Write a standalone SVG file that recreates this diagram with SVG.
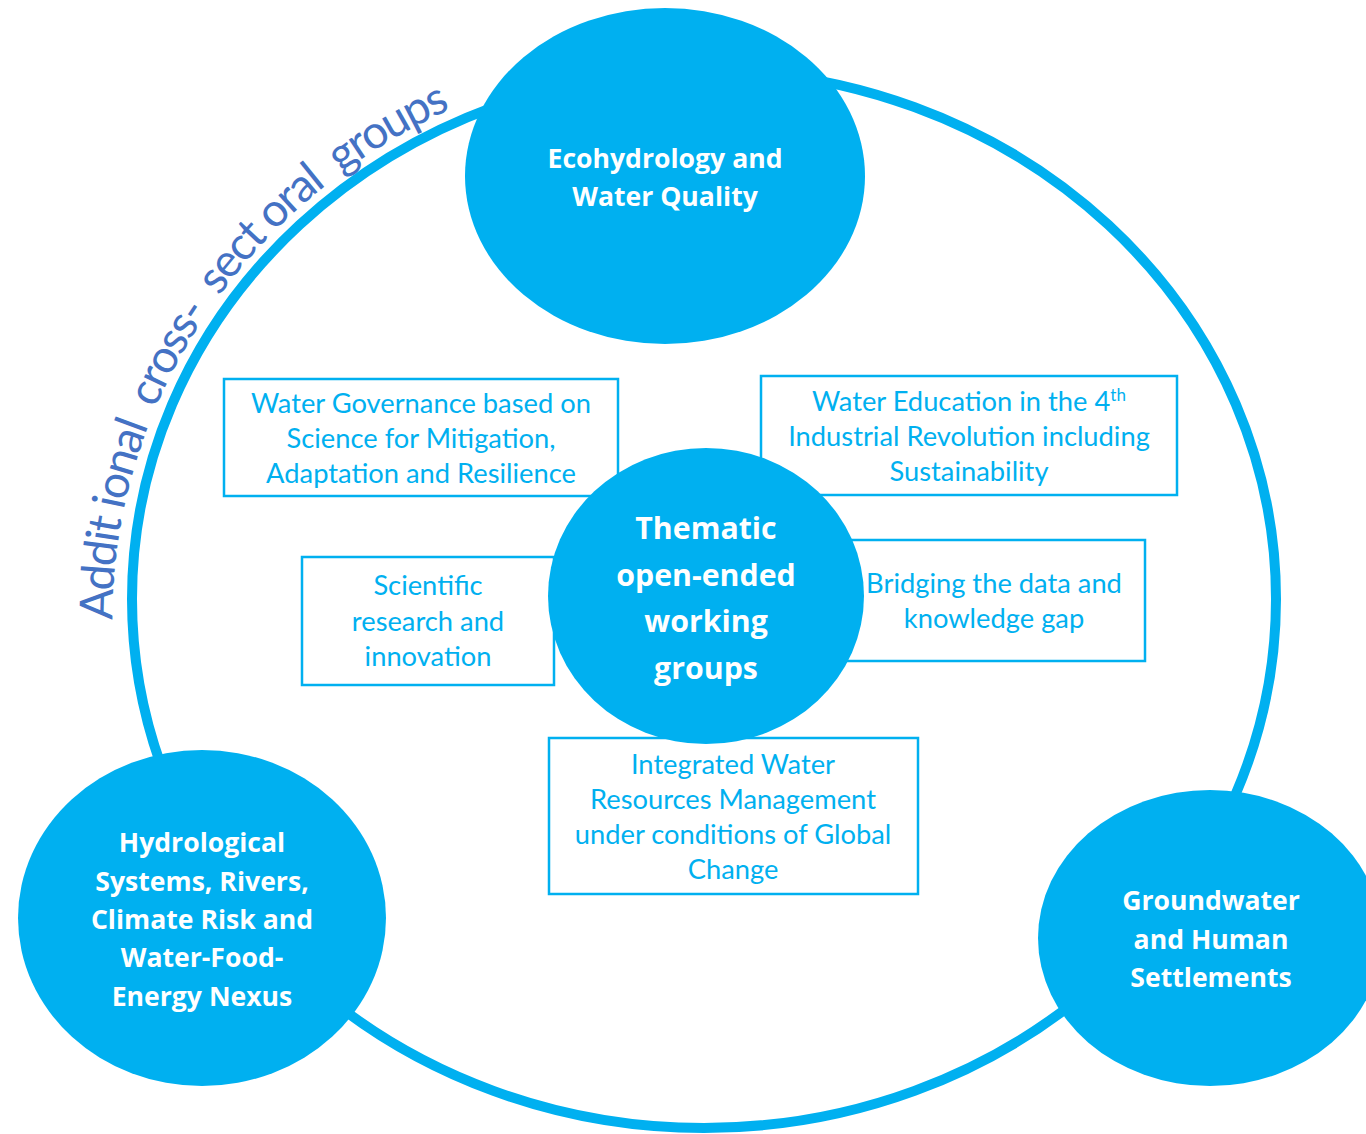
<svg xmlns="http://www.w3.org/2000/svg" width="1366" height="1134" viewBox="0 0 1366 1134">
<style>
.ring{fill:none;stroke:#00B0F0;stroke-width:10}
.box{fill:#fff;stroke:#00B0F0;stroke-width:2.5}
.bt{font-family:Lato,"Liberation Sans",sans-serif;font-size:27.3px;fill:#00B0F0;text-anchor:middle}
.ct{font-family:"Open Sans","Liberation Sans",sans-serif;font-weight:bold;font-size:26.6px;fill:#fff;text-anchor:middle}
.big{font-size:30.3px}
.circ{fill:#00B0F0}
.arc{font-family:Lato,"Liberation Sans",sans-serif;font-size:46px;fill:#4472C4}
</style>
<defs>
<path id="arcpath" d="M 112.4,620 A 592 565 0 0 1 1296 599"/>
</defs>
<g id="outer-ring">
<ellipse class="ring" cx="704" cy="599" rx="572" ry="529"/>
</g>
<g id="arc-label">
<text class="arc" xml:space="preserve"><textPath href="#arcpath" textLength="648" lengthAdjust="spacing">Addit ional  cross-  sect oral  groups</textPath></text>
</g>
<g id="connectors"></g>
<g id="box-governance">
<rect class="box" x="224" y="379" width="394" height="117"/>
<text class="bt" x="421" y="413">Water Governance based on</text>
<text class="bt" x="421" y="448">Science for Mitigation,</text>
<text class="bt" x="421" y="483">Adaptation and Resilience</text>
</g>
<g id="box-education">
<rect class="box" x="761" y="376" width="416" height="119"/>
<text class="bt" x="969" y="411">Water Education in the 4<tspan font-size="17" dy="-10">th</tspan></text>
<text class="bt" x="969" y="446">Industrial Revolution including</text>
<text class="bt" x="969" y="481">Sustainability</text>
</g>
<g id="box-research">
<rect class="box" x="302" y="557" width="252" height="128"/>
<text class="bt" x="428" y="595">Scientific</text>
<text class="bt" x="428" y="631">research and</text>
<text class="bt" x="428" y="666">innovation</text>
</g>
<g id="box-data">
<rect class="box" x="800" y="540" width="345" height="121"/>
<text class="bt" x="994" y="593">Bridging the data and</text>
<text class="bt" x="994" y="628">knowledge gap</text>
</g>
<g id="box-iwrm">
<rect class="box" x="549" y="738" width="369" height="156"/>
<text class="bt" x="733" y="774">Integrated Water</text>
<text class="bt" x="733" y="809">Resources Management</text>
<text class="bt" x="733" y="844">under conditions of Global</text>
<text class="bt" x="733" y="879">Change</text>
</g>
<g id="node-ecohydrology">
<ellipse class="circ" cx="665" cy="176" rx="200" ry="168"/>
<text class="ct" x="665" y="168">Ecohydrology and</text>
<text class="ct" x="665" y="206">Water Quality</text>
</g>
<g id="node-thematic">
<ellipse class="circ" cx="706" cy="596" rx="158" ry="148"/>
<text class="ct big" x="706" y="539">Thematic</text>
<text class="ct big" x="706" y="586">open-ended</text>
<text class="ct big" x="706" y="632">working</text>
<text class="ct big" x="706" y="679">groups</text>
</g>
<g id="node-hydrological">
<ellipse class="circ" cx="202" cy="918" rx="184" ry="168"/>
<text class="ct" x="202" y="852">Hydrological</text>
<text class="ct" x="202" y="891">Systems, Rivers,</text>
<text class="ct" x="202" y="929">Climate Risk and</text>
<text class="ct" x="202" y="967">Water-Food-</text>
<text class="ct" x="202" y="1006">Energy Nexus</text>
</g>
<g id="node-groundwater">
<ellipse class="circ" cx="1210" cy="938" rx="172" ry="148"/>
<text class="ct" x="1211" y="910">Groundwater</text>
<text class="ct" x="1211" y="949">and Human</text>
<text class="ct" x="1211" y="987">Settlements</text>
</g>
</svg>
